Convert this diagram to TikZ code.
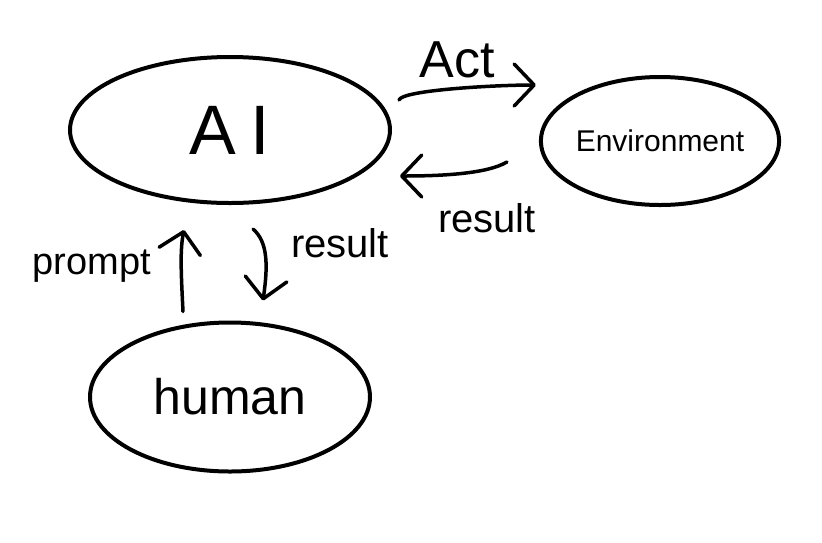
\documentclass[tikz,border=0pt]{standalone}
\usepackage{fontspec}
\setmainfont{Liberation Sans}
\usetikzlibrary{arrows.meta,calc,shapes.geometric}
\begin{document}
\begin{tikzpicture}[x=1pt,y=-1pt,
  blob/.style={draw,ellipse,line width=4pt,inner sep=0pt},
  conn/.style={line width=3.5pt,line cap=round,line join=round},
  tipbarb/.style={-{Straight Barb[length=20pt,width=42pt,round]}},
  lbl/.style={inner sep=0pt}]
\useasboundingbox[fill=white] (0,0) rectangle (822,542);
\node[blob,minimum width=320pt,minimum height=146pt,font=\fontsize{70}{70}\selectfont] (ai) at (230,130) {A\hspace{14pt}I};
\node[blob,minimum width=230pt,minimum height=128pt,font=\fontsize{30}{30}\selectfont] (env) at (660,141) {Environment};
\node[blob,minimum width=280pt,minimum height=149pt,font=\fontsize{50}{50}\selectfont] (human) at (230,397) {human};
\node[lbl,font=\fontsize{52}{52}\selectfont] (lact) at (457,60) {Act};
\node[lbl,font=\fontsize{40}{40}\selectfont] (lres1) at (487,218) {result};
\node[lbl,font=\fontsize{38}{38}\selectfont] (lprompt) at (92,266) {prompt};
\node[lbl,font=\fontsize{40}{40}\selectfont] (lres2) at (340,243) {result};
\draw[conn,tipbarb] ($(ai.east)+(7,-30)$) .. controls +(3,-10) and +(-40,0) .. ($(env.west)+(-3,-56)$);
\draw[conn,tipbarb] ($(env.west)+(-32,21)$) .. controls +(-20,12) and +(40,0) .. ($(ai.east)+(8,46)$);
\draw[conn,tipbarb] ($(human.north)+(-47,-9)$) .. controls +(-2,-40) and +(-4,20) .. ($(ai.south)+(-46,25)$);
\draw[conn,tipbarb] ($(ai.south)+(23,24)$) .. controls +(15,13) and +(5,-35) .. ($(human.north)+(33,-20)$);
\end{tikzpicture}
\end{document}
